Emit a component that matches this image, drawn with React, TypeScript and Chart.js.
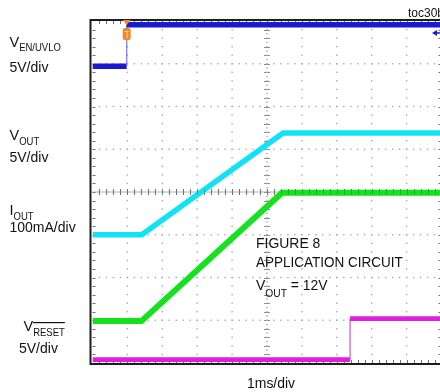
import React, { useEffect, useRef } from "react";
import { Chart, registerables } from "chart.js";

Chart.register(...registerables);

// Scope screen: 10 horizontal divisions (1 ms/div), 8 vertical divisions
const timeDivs = 10;
const voltDivs = 8;

// Traces (x in ms = divisions, y in screen divisions from the bottom)
const enUvloTime = [0, 0.98, 0.98, 10];
const enUvloDiv = [6.94, 6.94, 7.91, 7.91];
const voutTime = [0, 1.41, 5.46, 10];
const voutDiv = [3.0, 3.0, 5.38, 5.38];
const ioutTime = [0, 1.4, 5.43, 10];
const ioutDiv = [0.98, 0.98, 3.98, 3.98];
const resetTime = [0, 7.38, 7.38, 10];
const resetDiv = [0.08, 0.08, 1.04, 1.04];
const triggerTime = 0.98;
const ch1MarkerDiv = 7.72;

// Text
const channelMain = ["V", "V", "I", "V"];
const channelSub = ["EN/UVLO", "OUT", "OUT", "RESET"];
const channelScale = ["5V/div", "5V/div", "100mA/div", "5V/div"];
const noteLines = ["FIGURE 8", "APPLICATION CIRCUIT"];
const noteVout = ["V", "OUT", " = 12V"];
const timeScaleLabel = "1ms/div";
const figureId = "toc30b";

const FONT = '"Liberation Sans", Arial, Helvetica, sans-serif';

function pts(xs: number[], ys: number[]) {
  return xs.map((x, i) => ({ x, y: ys[i] }));
}

function drawText(ctx: CanvasRenderingContext2D, text: string, x: number, y: number, size: number, sx = 1) {
  ctx.save();
  ctx.font = `${size}px ${FONT}`;
  ctx.translate(x, y);
  ctx.scale(sx, 1);
  ctx.fillText(text, 0, 0);
  const w = ctx.measureText(text).width * sx;
  ctx.restore();
  return w;
}

const scopePlugin = {
  id: "scope",
  beforeDatasetsDraw(chart: any) {
    const { ctx, chartArea: a, scales } = chart;
    const xs = scales.x;
    const ys = scales.y;
    ctx.save();
    // dotted grid
    ctx.fillStyle = "#a8a8a8";
    for (let i = 1; i < timeDivs; i++) {
      if (i === timeDivs / 2) continue;
      const px = xs.getPixelForValue(i);
      for (let j = 1; j < voltDivs * 5; j++) {
        const py = ys.getPixelForValue(j / 5);
        ctx.fillRect(px - 0.7, py - 0.7, 1.4, 1.4);
      }
    }
    for (let j = 1; j < voltDivs; j++) {
      if (j === voltDivs / 2) continue;
      const py = ys.getPixelForValue(j);
      for (let k = 1; k < timeDivs * 5; k++) {
        const px = xs.getPixelForValue(k / 5);
        ctx.fillRect(px - 0.7, py - 0.7, 1.4, 1.4);
      }
    }
    // center cross
    const cx = xs.getPixelForValue(timeDivs / 2);
    const cy = ys.getPixelForValue(voltDivs / 2);
    ctx.strokeStyle = "#b0b0b0";
    ctx.lineWidth = 1;
    ctx.beginPath();
    ctx.moveTo(a.left, cy);
    ctx.lineTo(a.right, cy);
    ctx.stroke();
    ctx.strokeStyle = "#8c8c8c";
    ctx.beginPath();
    for (let k = 1; k < timeDivs * 5; k++) {
      const px = Math.round(xs.getPixelForValue(k / 5)) + 0.5;
      ctx.moveTo(px, cy - 3);
      ctx.lineTo(px, cy + 3);
    }
    for (let j = 1; j < voltDivs * 5; j++) {
      const py = Math.round(ys.getPixelForValue(j / 5)) + 0.5;
      ctx.moveTo(cx - 3, py);
      ctx.lineTo(cx + 3, py);
    }
    ctx.stroke();
    ctx.fillStyle = "#a8a8a8";
    for (let j = 1; j < voltDivs * 10; j++) {
      const py = ys.getPixelForValue(j / 10);
      ctx.fillRect(cx - 0.7, py - 0.7, 1.4, 1.4);
    }
    // edge ticks
    ctx.strokeStyle = "#707070";
    ctx.beginPath();
    for (let k = 1; k < timeDivs * 5; k++) {
      const px = Math.round(xs.getPixelForValue(k / 5)) + 0.5;
      ctx.moveTo(px, a.top);
      ctx.lineTo(px, a.top + 3);
      ctx.moveTo(px, a.bottom);
      ctx.lineTo(px, a.bottom - 3);
    }
    for (let j = 1; j < voltDivs * 5; j++) {
      const py = Math.round(ys.getPixelForValue(j / 5)) + 0.5;
      ctx.moveTo(a.left, py);
      ctx.lineTo(a.left + 3, py);
      ctx.moveTo(a.right, py);
      ctx.lineTo(a.right - 3, py);
    }
    ctx.stroke();
    ctx.restore();
  },
  afterDatasetsDraw(chart: any) {
    const { ctx, chartArea: a, scales } = chart;
    const xs = scales.x;
    const ys = scales.y;
    ctx.save();
    // center-axis ticks show through the traces
    const cy = ys.getPixelForValue(voltDivs / 2);
    ctx.strokeStyle = "rgba(40,80,40,0.35)";
    ctx.lineWidth = 1;
    ctx.beginPath();
    for (let k = 1; k < timeDivs * 5; k++) {
      const px = Math.round(xs.getPixelForValue(k / 5)) + 0.5;
      ctx.moveTo(px, cy - 3);
      ctx.lineTo(px, cy + 3);
    }
    ctx.stroke();
    // frame
    ctx.strokeStyle = "#1e1e1e";
    ctx.lineWidth = 2;
    ctx.strokeRect(a.left - 2, a.top - 1, a.right - a.left + 4, a.bottom - a.top + 2);
    // trigger marker
    const tx = xs.getPixelForValue(triggerTime);
    ctx.fillStyle = "#f08a24";
    ctx.beginPath();
    ctx.moveTo(tx - 4, a.top - 1);
    ctx.lineTo(tx + 4, a.top - 1);
    ctx.lineTo(tx, a.top + 4);
    ctx.closePath();
    ctx.fill();
    ctx.beginPath();
    (ctx as any).roundRect
      ? (ctx as any).roundRect(tx - 4, a.top + 7, 8, 12, 2)
      : ctx.rect(tx - 4, a.top + 7, 8, 12);
    ctx.fill();
    ctx.strokeStyle = "#fbd3a8";
    ctx.lineWidth = 1;
    ctx.beginPath();
    ctx.moveTo(tx - 2, a.top + 10.5);
    ctx.lineTo(tx + 2, a.top + 10.5);
    ctx.moveTo(tx + 0.5, a.top + 10.5);
    ctx.lineTo(tx + 0.5, a.top + 17);
    ctx.stroke();
    // channel 1 marker at right
    const my = ys.getPixelForValue(ch1MarkerDiv);
    ctx.fillStyle = "#1c1cc8";
    ctx.beginPath();
    ctx.moveTo(432, my);
    ctx.lineTo(437, my - 3);
    ctx.lineTo(437, my + 3);
    ctx.closePath();
    ctx.fill();
    ctx.fillRect(436, my - 0.75, 6, 1.5);
    ctx.restore();
  },
  afterDraw(chart: any) {
    const ctx: CanvasRenderingContext2D = chart.ctx;
    ctx.save();
    ctx.fillStyle = "#111";
    ctx.textBaseline = "alphabetic";
    // channel labels
    const mainPos = [
      [9.5, 46.5],
      [9.5, 140],
      [9.5, 215],
      [23.5, 331],
    ];
    const scalePos = [
      [9.5, 72],
      [9.5, 162],
      [9.5, 232],
      [19, 353],
    ];
    for (let i = 0; i < channelMain.length; i++) {
      const [mx, my] = mainPos[i];
      const w = drawText(ctx, channelMain[i], mx, my, 14.5);
      const sw = drawText(ctx, channelSub[i], mx + w, my + 4.5, 10, 0.95);
      if (channelSub[i] === "RESET") {
        ctx.fillRect(mx + w, my - 9, sw, 1.2);
      }
      const [sx, sy] = scalePos[i];
      drawText(ctx, channelScale[i], sx, sy, 14);
    }
    // note
    drawText(ctx, noteLines[0], 256, 248, 15, 0.93);
    drawText(ctx, noteLines[1], 256, 267, 15, 0.9);
    let x = 256;
    x += drawText(ctx, noteVout[0], x, 290, 15, 0.93);
    x += drawText(ctx, noteVout[1], x, 296.5, 11, 0.93);
    drawText(ctx, noteVout[2], x, 290, 15, 0.93);
    // time scale and id
    drawText(ctx, timeScaleLabel, 247, 388, 15, 0.93);
    drawText(ctx, figureId, 408, 16.5, 12);
    ctx.restore();
  },
};

export default function App() {
  const ref = useRef<HTMLCanvasElement | null>(null);
  useEffect(() => {
    if (!ref.current) return;
    const vertical = (c: any) => c.p0.parsed.x === c.p1.parsed.x;
    const chart = new Chart(ref.current, {
      type: "line",
      data: {
        datasets: [
          {
            label: "VEN/UVLO",
            data: pts(enUvloTime, enUvloDiv),
            borderColor: "#1a1ad2",
            borderWidth: 5.5,
            pointRadius: 0,
            segment: {
              borderWidth: (c: any) => (vertical(c) ? 1.2 : 5.5),
              borderColor: (c: any) => (vertical(c) ? "#7878f0" : "#1a1ad2"),
            },
          },
          {
            label: "VOUT",
            data: pts(voutTime, voutDiv),
            borderColor: "#12e2f6",
            borderWidth: 5.5,
            pointRadius: 0,
          },
          {
            label: "IOUT",
            data: pts(ioutTime, ioutDiv),
            borderColor: "#14e21e",
            borderWidth: 6,
            pointRadius: 0,
          },
          {
            label: "VRESET",
            data: pts(resetTime, resetDiv),
            borderColor: "#e21ce0",
            borderWidth: 4.8,
            pointRadius: 0,
            segment: {
              borderWidth: (c: any) => (vertical(c) ? 1.2 : 4.8),
              borderColor: (c: any) => (vertical(c) ? "#d050d0" : "#e21ce0"),
            },
          },
        ],
      },
      options: {
        animation: false,
        responsive: false,
        maintainAspectRatio: false,
        devicePixelRatio: 1,
        events: [],
        layout: { padding: { left: 92.5, top: 21, right: 18.5, bottom: 29 } },
        elements: { line: { tension: 0, fill: false, borderCapStyle: "butt", borderJoinStyle: "miter" } },
        scales: {
          x: { type: "linear", min: 0, max: timeDivs, display: false },
          y: { type: "linear", min: 0, max: voltDivs, display: false },
        },
        plugins: { legend: { display: false }, tooltip: { enabled: false } },
      },
      plugins: [scopePlugin],
    } as any);
    return () => chart.destroy();
  }, []);
  return (
    <div
      style={{
        position: "fixed",
        left: 0,
        top: 0,
        width: 440,
        height: 392,
        overflow: "hidden",
        background: "#fff",
      }}
    >
      <canvas ref={ref} width={460} height={392} style={{ display: "block" }} />
    </div>
  );
}
